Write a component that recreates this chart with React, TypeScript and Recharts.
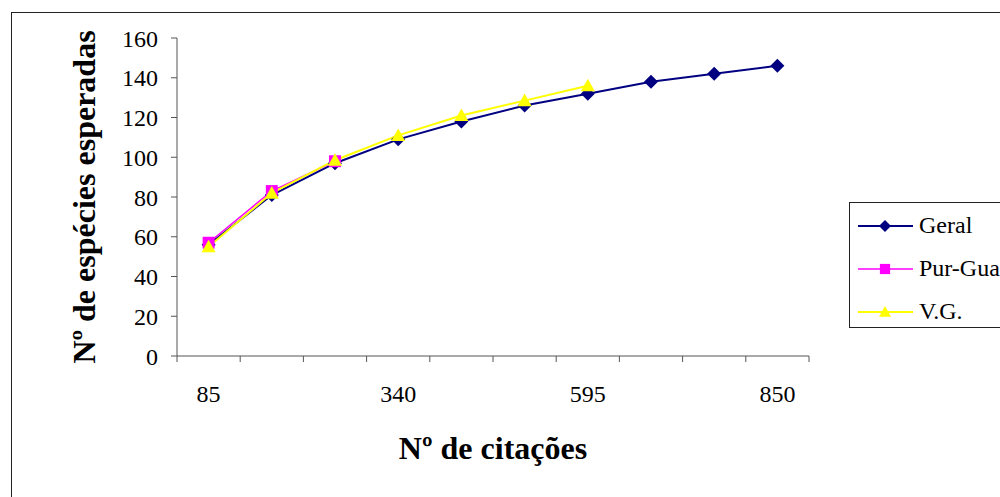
import { LineChart, Line, XAxis, YAxis, Legend } from 'recharts';

const categories = ['85', '170', '255', '340', '425', '510', '595', '680', '765', '850'];
const geral = [56, 81, 97, 109, 118, 126, 132, 138, 142, 146];
const purGua = [57, 83, 98, null, null, null, null, null, null, null];
const vg = [55, 82, 98.5, 111, 121, 128.5, 136, null, null, null];
const yTicks = [0, 20, 40, 60, 80, 100, 120, 140, 160];
const labelledCats = ['85', '340', '595', '850'];

const FONT = '"Liberation Serif", "Times New Roman", serif';

const data = categories.map((c, i) => ({
  cat: c,
  idx: i + 1,
  geral: geral[i],
  purGua: purGua[i],
  vg: vg[i],
}));

const labelTicks = labelledCats.map((c) => categories.indexOf(c) + 1);
const boundaryTicks = [...categories.map((_, i) => i + 0.5), categories.length + 0.5];
const allTicks = [...boundaryTicks, ...labelTicks].sort((a, b) => a - b);

const series = [
  { key: 'geral', name: 'Geral', color: '#000080', width: 2, shape: 'diamond' },
  { key: 'purGua', name: 'Pur-Gua', color: '#FF00FF', width: 1.5, shape: 'square' },
  { key: 'vg', name: 'V.G.', color: '#FFFF00', width: 2, shape: 'triangle' },
];

function Marker({ cx, cy, shape, color, size }: any) {
  if (cx == null || cy == null || isNaN(cy)) return <g />;
  if (shape === 'diamond') {
    return (
      <polygon
        points={`${cx},${cy - size} ${cx + size},${cy} ${cx},${cy + size} ${cx - size},${cy}`}
        fill={color}
      />
    );
  }
  if (shape === 'square') {
    const s = size * 0.85;
    return <rect x={cx - s} y={cy - s} width={s * 2} height={s * 2} fill={color} />;
  }
  return (
    <polygon
      points={`${cx},${cy - size} ${cx + size},${cy + size * 0.8} ${cx - size},${cy + size * 0.8}`}
      fill={color}
    />
  );
}

// boundary ticks get a tick mark, category ticks get a label
function XTick({ x, y, payload }: any) {
  const v = payload.value;
  if (!Number.isInteger(v)) {
    return <line x1={x} y1={y} x2={x} y2={y + 6} stroke="#555" />;
  }
  return (
    <text x={x} y={y + 29} dy="0.71em" textAnchor="middle" fontFamily={FONT} fontSize={24} fill="#000">
      {categories[v - 1]}
    </text>
  );
}

function LegendBox() {
  return (
    <div
      style={{
        border: '1px solid #222',
        background: '#fff',
        width: 200,
        height: 126,
        boxSizing: 'border-box',
        padding: '1px 0 0 8px',
        fontFamily: FONT,
        fontSize: 24,
        color: '#000',
      }}
    >
      {series.map((s) => (
        <div key={s.key} style={{ display: 'flex', alignItems: 'center', height: 43 }}>
          <svg width={56} height={20}>
            <line x1={0} y1={10} x2={55} y2={10} stroke={s.color} strokeWidth={s.width} />
            <Marker cx={27} cy={10} shape={s.shape} color={s.color} size={6} />
          </svg>
          <span style={{ marginLeft: 5 }}>{s.name}</span>
        </div>
      ))}
    </div>
  );
}

export default function App() {
  return (
    <div
      style={{
        position: 'absolute',
        left: 0,
        top: 0,
        width: 1000,
        height: 497,
        overflow: 'hidden',
        background: '#fff',
      }}
    >
      <div
        style={{
          position: 'absolute',
          left: 11,
          top: 12,
          width: 1100,
          height: 600,
          border: '1px solid #222',
        }}
      />
      <LineChart
        width={1000}
        height={497}
        data={data}
        margin={{ top: 38, right: 191, left: 0, bottom: 0 }}
      >
        <XAxis
          type="number"
          dataKey="idx"
          domain={[0.5, categories.length + 0.5]}
          ticks={allTicks}
          interval={0}
          tick={<XTick />}
          tickLine={false}
          tickSize={0}
          tickMargin={0}
          axisLine={{ stroke: '#555' }}
          height={141}
          label={{
            content: ({ viewBox }: any) => (
              <text
                x={viewBox.x + viewBox.width / 2}
                y={459}
                textAnchor="middle"
                fontFamily={FONT}
                fontWeight="bold"
                fontSize={32}
                fill="#000"
              >
                Nº de citações
              </text>
            ),
          }}
        />
        <YAxis
          domain={[0, 160]}
          ticks={yTicks}
          interval={0}
          width={177}
          tickSize={6}
          tickMargin={13}
          axisLine={{ stroke: '#555' }}
          tickLine={{ stroke: '#555' }}
          tick={{ fill: '#000', fontSize: 24, fontFamily: FONT }}
          label={{
            content: ({ viewBox }: any) => {
              const x = 95;
              const y = viewBox.y + viewBox.height / 2;
              return (
                <text
                  x={x}
                  y={y}
                  transform={`rotate(-90, ${x}, ${y})`}
                  textAnchor="middle"
                  fontFamily={FONT}
                  fontWeight="bold"
                  fontSize={32}
                  fill="#000"
                >
                  Nº de espécies esperadas
                </text>
              );
            },
          }}
        />
        <Legend
          layout="horizontal"
          verticalAlign="middle"
          wrapperStyle={{ position: 'absolute', left: 849, top: 202, width: 200 }}
          content={() => <LegendBox />}
        />
        {series.map((s) => (
          <Line
            key={s.key}
            dataKey={s.key}
            name={s.name}
            stroke={s.color}
            strokeWidth={s.width}
            isAnimationActive={false}
            connectNulls={false}
            dot={(p: any) => (
              <Marker key={`${s.key}-${p.index}`} cx={p.cx} cy={p.cy} shape={s.shape} color={s.color} size={7} />
            )}
            activeDot={false}
          />
        ))}
      </LineChart>
    </div>
  );
}
